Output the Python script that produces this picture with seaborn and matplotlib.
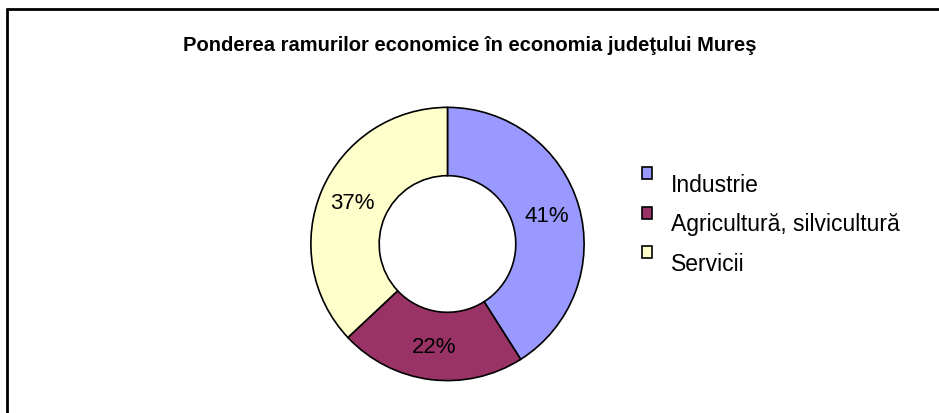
import matplotlib
matplotlib.use('Agg')
import matplotlib.pyplot as plt
import seaborn as sns
from matplotlib.patches import Patch, Rectangle
from matplotlib.lines import Line2D
from matplotlib.legend_handler import HandlerPatch

ramuri = ['Industrie', 'Agricultură, silvicultură', 'Servicii']
ponderi = [41, 22, 37]
culori = ['#9999FF', '#993366', '#FFFFCC']
titlu = 'Ponderea ramurilor economice în economia judeţului Mureş'

sns.set_theme(style='white')
plt.rcParams['font.family'] = ['Liberation Sans', 'DejaVu Sans']
plt.rcParams['text.color'] = 'black'

fig = plt.figure(figsize=(9.39, 4.14), dpi=100)
ax = fig.add_axes([0.3296, 0.0749, 0.2939, 0.6667])

wedges, texts, autotexts = ax.pie(
    ponderi, colors=culori, startangle=90, counterclock=False,
    autopct='%1.0f%%', pctdistance=0.76,
    wedgeprops=dict(width=0.5, edgecolor='black', linewidth=1.2),
    textprops=dict(fontsize=16, color='black'))
ax.set_xlim(-1.01, 1.01)
ax.set_ylim(-1.01, 1.01)
ax.set_aspect('equal')
ax.axis('off')

fig.text(0.5, 0.891, titlu, ha='center', va='center', fontsize=14.5,
         fontweight='bold', color='black')

# chenarul de sus si din stanga
fig.add_artist(Line2D([7/939, 7/939], [0, 1 - 10/414], color='black', lw=2, transform=fig.transFigure))
fig.add_artist(Line2D([7/939, 1], [1 - 10/414, 1 - 10/414], color='black', lw=2, transform=fig.transFigure))


# patratelul din legenda sta putin mai sus decat textul, ca in Excel
def patrat_sus(legend, orig_handle, xdescent, ydescent, width, height, fontsize):
    return Rectangle((-xdescent, -ydescent + 0.42 * fontsize), width, height)


handles = [Patch(facecolor=c, edgecolor='black', linewidth=1.2) for c in culori]
fig.legend(handles, ramuri, loc='upper left', bbox_to_anchor=(642/939, 1 - 174/414),
           frameon=False, fontsize=16.5, handlelength=0.45, handleheight=0.45,
           handletextpad=0.8, labelspacing=0.72, borderpad=0, borderaxespad=0,
           handler_map={Patch: HandlerPatch(patch_func=patrat_sus)})

fig.savefig('out.png', dpi=100, facecolor='white')
